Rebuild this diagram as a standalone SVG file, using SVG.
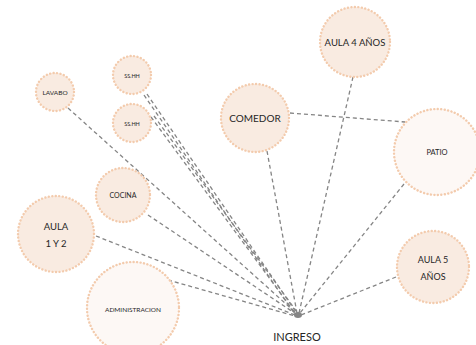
<svg xmlns="http://www.w3.org/2000/svg" width="476" height="345" viewBox="0 0 476 345">
<style>
.n{fill:#f9ebe1;stroke:#f3cbad;stroke-width:2.4;stroke-dasharray:0.1 3.4;stroke-linecap:round}
.w{fill:#fdf8f5}
.c{fill:none;stroke:#858585;stroke-width:1.3;stroke-dasharray:4 3}
text{font-family:Lato,"Liberation Sans",sans-serif;fill:#262626;text-anchor:middle;dominant-baseline:central}
</style>
<rect width="476" height="345" fill="#fff"/>
<g id="connectors">
<line class="c" x1="68" y1="108" x2="296" y2="313"/>
<line class="c" x1="144" y1="95" x2="294" y2="313"/>
<line class="c" x1="147" y1="94" x2="296" y2="312"/>
<line class="c" x1="151" y1="117" x2="295" y2="313"/>
<line class="c" x1="154" y1="116" x2="297" y2="312"/>
<line class="c" x1="148" y1="215" x2="296" y2="314"/>
<line class="c" x1="96" y1="236" x2="295" y2="315"/>
<line class="c" x1="168" y1="280" x2="295" y2="316"/>
<line class="c" x1="267" y1="151" x2="297" y2="313"/>
<line class="c" x1="353" y1="77" x2="299" y2="313"/>
<line class="c" x1="404" y1="184" x2="300" y2="313"/>
<line class="c" x1="396" y1="277" x2="301" y2="315"/>
<line class="c" x1="290" y1="113" x2="405" y2="122"/>
<ellipse cx="298" cy="315" rx="4" ry="3" fill="#858585"/>
</g>
<g id="lavabo"><circle class="n" cx="55" cy="92" r="19"/><text x="55" y="92" font-size="6.5">LAVABO</text></g>
<g id="sshh1"><circle class="n" cx="132" cy="75" r="19"/><text x="132" y="76" font-size="5.5">SS.HH</text></g>
<g id="sshh2"><circle class="n" cx="132" cy="123" r="19"/><text x="132" y="124" font-size="5.5">SS.HH</text></g>
<g id="cocina"><circle class="n" cx="123" cy="195" r="27"/><text x="123" y="195" font-size="7">COCINA</text></g>
<g id="aula12"><circle class="n" cx="56" cy="234" r="38"/><text x="56" y="226" font-size="9.5">AULA</text><text x="56" y="243" font-size="9.5">1 Y 2</text></g>
<g id="administracion"><circle class="n w" cx="133" cy="308" r="46"/><text x="133" y="309" font-size="6.5">ADMINISTRACION</text></g>
<g id="comedor"><circle class="n" cx="255" cy="118" r="34"/><text x="255" y="118" font-size="10">COMEDOR</text></g>
<g id="aula4"><circle class="n" cx="355" cy="42" r="35"/><text x="355" y="42" font-size="9.5">AULA 4 AÑOS</text></g>
<g id="patio"><circle class="n w" cx="437" cy="152" r="43"/><text x="437" y="152" font-size="7.5">PATIO</text></g>
<g id="aula5"><circle class="n" cx="433" cy="267" r="36"/><text x="433" y="259" font-size="9">AULA 5</text><text x="433" y="276" font-size="9">AÑOS</text></g>
<g id="ingreso"><text x="297" y="336" font-size="11">INGRESO</text></g>
</svg>
